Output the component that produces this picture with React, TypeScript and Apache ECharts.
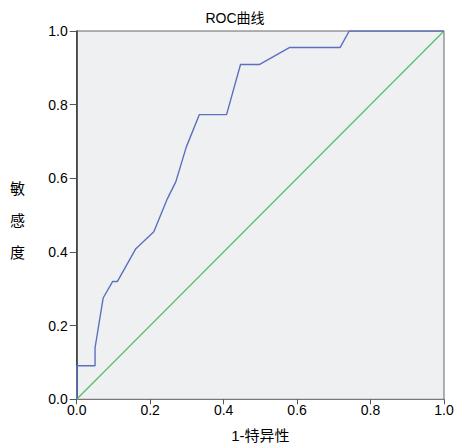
import React, { useEffect, useRef } from "react";
import * as echarts from "echarts";

const rocX = [0, 0, 0.05, 0.05, 0.072, 0.098, 0.111, 0.161, 0.21, 0.247, 0.27, 0.298, 0.334, 0.408, 0.446, 0.497, 0.579, 0.717, 0.742, 1];
const rocY = [0, 0.091, 0.091, 0.14, 0.275, 0.32, 0.32, 0.409, 0.455, 0.545, 0.591, 0.684, 0.773, 0.773, 0.909, 0.909, 0.955, 0.955, 1, 1];
const refX = [0, 1];
const refY = [0, 1];
const tickValues = [0, 0.2, 0.4, 0.6, 0.8, 1.0];

export default function App() {
  const ref = useRef<HTMLDivElement>(null);
  useEffect(() => {
    if (!ref.current) return;
    const chart = echarts.init(ref.current, null, { renderer: "svg" });
    const font = "'Liberation Sans', Arial, sans-serif";
    chart.setOption({
      animation: false,
      backgroundColor: "#ffffff",
      title: {
        text: "ROC曲线",
        left: 230,
        top: 6,
        textAlign: "center",
        textStyle: { fontSize: 14, fontWeight: "normal", color: "#000", fontFamily: "'Liberation Sans', 'Noto Sans CJK SC', sans-serif" },
      },
      grid: {
        left: 76.7,
        right: 22,
        top: 31,
        bottom: 44.7,
        containLabel: false,
        outerBoundsMode: "none",
        show: true,
        backgroundColor: "#EFF0F2",
        borderColor: "#666",
        borderWidth: 1,
      },
      xAxis: {
        type: "value",
        min: 0,
        max: 1,
        interval: 0.2,
        name: "1-特异性",
        nameLocation: "middle",
        nameGap: 29,
        nameTextStyle: { fontSize: 15, color: "#000", fontFamily: "'Liberation Sans', 'Noto Sans CJK SC', sans-serif" },
        axisLine: { show: true, lineStyle: { color: "#777", width: 1 } },
        axisTick: { show: true, length: 5, lineStyle: { color: "#555" } },
        axisLabel: {
          margin: 4,
          fontSize: 14,
          color: "#000",
          fontFamily: font,
          formatter: (v: number) => (tickValues.includes(Math.round(v * 10) / 10) ? v.toFixed(1) : ""),
        },
        splitLine: { show: false },
      },
      yAxis: {
        type: "value",
        min: 0,
        max: 1,
        interval: 0.2,
        axisLine: { show: true, lineStyle: { color: "#333", width: 1.5 } },
        axisTick: { show: true, length: 7, lineStyle: { color: "#555" } },
        axisLabel: {
          margin: 9,
          fontSize: 14,
          color: "#000",
          fontFamily: font,
          formatter: (v: number) => v.toFixed(1),
        },
        splitLine: { show: false },
      },
      graphic: [
        {
          type: "text",
          left: 10,
          top: 171,
          style: {
            text: "敏\n感\n度",
            fontSize: 15,
            lineHeight: 32,
            fill: "#000",
            fontFamily: "'Noto Sans CJK SC', sans-serif",
          },
        },
      ],
      series: [
        {
          type: "line",
          data: refX.map((x, i) => [x, refY[i]]),
          symbol: "none",
          lineStyle: { color: "#5CBF68", width: 1.3 },
          silent: true,
        },
        {
          type: "line",
          data: rocX.map((x, i) => [x, rocY[i]]),
          symbol: "none",
          lineStyle: { color: "#5B70BF", width: 1.4 },
          silent: true,
        },
      ],
    });
    return () => chart.dispose();
  }, []);
  return <div ref={ref} style={{ position: "fixed", left: 0, top: 0, width: 466, height: 444 }} />;
}
